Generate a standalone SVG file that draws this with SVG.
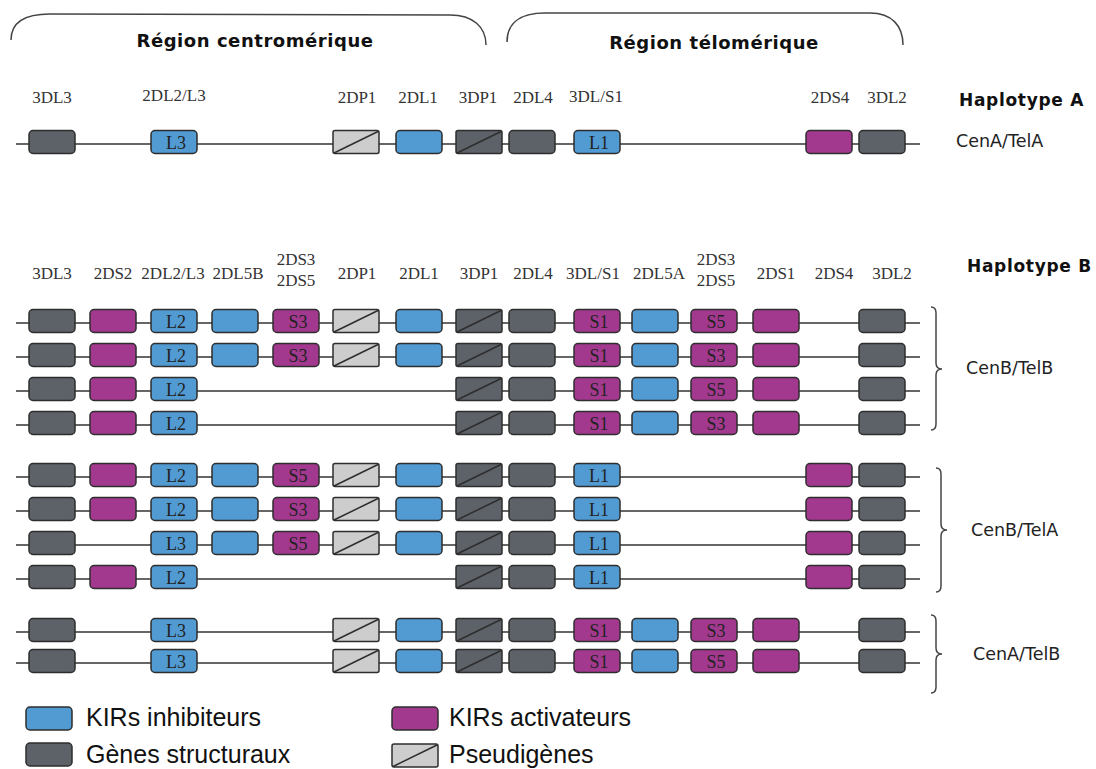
<svg xmlns="http://www.w3.org/2000/svg" xmlns:xlink="http://www.w3.org/1999/xlink" width="1096" height="769" viewBox="0 0 1096 769">
<style>
.s{fill:#5d6168}.i{fill:#519bd2}.a{fill:#a3398f}
use{stroke:#2e2e2e;stroke-width:1.5}
.bt{font-family:"Liberation Serif",serif;font-size:18px;fill:#222;text-anchor:middle}
.hd{font-family:"Liberation Serif",serif;font-size:17px;fill:#333;text-anchor:middle}
.sn{font-family:"DejaVu Sans",sans-serif;font-size:17.5px;fill:#222}
.bd{font-family:"DejaVu Sans",sans-serif;font-size:17px;font-weight:bold;fill:#111;letter-spacing:0.7px}
.tt{font-family:"DejaVu Sans",sans-serif;font-size:18px;font-weight:bold;fill:#111;text-anchor:middle;letter-spacing:0.55px}
.lg{font-family:"Liberation Sans",Arial,sans-serif;font-size:25px;fill:#111}
.ln{stroke:#333;stroke-width:1.5;fill:none}
.br{stroke:#444;stroke-width:1.5;fill:none}
</style>
<defs>
<rect id="bx" width="46" height="23" rx="4"/>
<g id="pl"><rect width="46" height="23" rx="2" fill="#cdcdcd"/><path d="M1 22.5L45 1"/></g>
<g id="pd"><rect width="46" height="23" rx="2" fill="#5d6168"/><path d="M1 22.5L45 1"/></g>
</defs>
<rect width="1096" height="769" fill="#fff"/>

<g id="brackets">
<path class="br" d="M11 40C11 23 23 14 50 14L450 15C473 15 486 27 486 45"/>
<path class="br" d="M507 42C507 24 519 13 545 13L870 13C892 13 903 26 903 45"/>
<path class="br" d="M931 307Q936 307 936 313V363Q936 369 942 369Q936 369 936 375V424Q936 430 931 430"/>
<path class="br" d="M936 468Q941 468 941 474V524Q941 530 947 530Q941 530 941 536V586Q941 592 936 592"/>
<path class="br" d="M931 615Q936 615 936 621V648Q936 654 942 654Q936 654 936 660V687Q936 693 931 693"/>
</g>

<g id="titles">
<text class="tt" x="255" y="47">Région centromérique</text>
<text class="tt" x="714" y="49">Région télomérique</text>
<text class="bd" x="959" y="106">Haplotype A</text>
<text class="bd" x="967" y="272">Haplotype B</text>
<text class="sn" x="956" y="147">CenA/TelA</text>
<text class="sn" x="966" y="374">CenB/TelB</text>
<text class="sn" x="971" y="536">CenB/TelA</text>
<text class="sn" x="973" y="660">CenA/TelB</text>
</g>

<g id="headers-A">
<text class="hd" x="52" y="103">3DL3</text>
<text class="hd" x="174" y="101">2DL2/L3</text>
<text class="hd" x="357" y="103">2DP1</text>
<text class="hd" x="418" y="103">2DL1</text>
<text class="hd" x="478" y="103">3DP1</text>
<text class="hd" x="533" y="103">2DL4</text>
<text class="hd" x="596" y="102">3DL/S1</text>
<text class="hd" x="830" y="103">2DS4</text>
<text class="hd" x="887" y="103">3DL2</text>
</g>

<g id="headers-B">
<text class="hd" x="52" y="279">3DL3</text>
<text class="hd" x="113" y="279">2DS2</text>
<text class="hd" x="173" y="279">2DL2/L3</text>
<text class="hd" x="238" y="279">2DL5B</text>
<text class="hd" x="296" y="265">2DS3</text>
<text class="hd" x="296" y="286">2DS5</text>
<text class="hd" x="357" y="279">2DP1</text>
<text class="hd" x="419" y="279">2DL1</text>
<text class="hd" x="479" y="279">3DP1</text>
<text class="hd" x="533" y="279">2DL4</text>
<text class="hd" x="593" y="279">3DL/S1</text>
<text class="hd" x="659" y="279">2DL5A</text>
<text class="hd" x="716" y="265">2DS3</text>
<text class="hd" x="716" y="286">2DS5</text>
<text class="hd" x="776" y="279">2DS1</text>
<text class="hd" x="834" y="279">2DS4</text>
<text class="hd" x="892" y="279">3DL2</text>
</g>

<g id="connectors">
<path class="ln" d="M16 144H920"/>
<path class="ln" d="M16 323H920"/>
<path class="ln" d="M16 357H920"/>
<path class="ln" d="M16 391H920"/>
<path class="ln" d="M16 425H920"/>
<path class="ln" d="M16 477H920"/>
<path class="ln" d="M16 511H920"/>
<path class="ln" d="M16 545H920"/>
<path class="ln" d="M16 579H920"/>
<path class="ln" d="M16 632H920"/>
<path class="ln" d="M16 663H920"/>
</g>

<g id="row-A">
<g id="A-3DL3"><use href="#bx" class="s" x="29" y="130.5"/></g>
<g id="A-2DL2L3"><use href="#bx" class="i" x="151" y="130.5"/><text class="bt" x="176" y="148.5">L3</text></g>
<g id="A-2DP1"><use href="#pl" x="333" y="130.5"/></g>
<g id="A-2DL1"><use href="#bx" class="i" x="396" y="130.5"/></g>
<g id="A-3DP1"><use href="#pd" x="456" y="130.5"/></g>
<g id="A-2DL4"><use href="#bx" class="s" x="509" y="130.5"/></g>
<g id="A-3DLS1"><use href="#bx" class="i" x="574" y="130.5"/><text class="bt" x="599" y="148.5">L1</text></g>
<g id="A-2DS4"><use href="#bx" class="a" x="806" y="130.5"/></g>
<g id="A-3DL2"><use href="#bx" class="s" x="859" y="130.5"/></g>
</g>

<g id="row-B1">
<g id="B1-3DL3"><use href="#bx" class="s" x="29" y="309.5"/></g>
<g id="B1-2DS2"><use href="#bx" class="a" x="90" y="309.5"/></g>
<g id="B1-2DL2L3"><use href="#bx" class="i" x="151" y="309.5"/><text class="bt" x="176" y="327.5">L2</text></g>
<g id="B1-2DL5B"><use href="#bx" class="i" x="212" y="309.5"/></g>
<g id="B1-2DS35c"><use href="#bx" class="a" x="273" y="309.5"/><text class="bt" x="298" y="327.5">S3</text></g>
<g id="B1-2DP1"><use href="#pl" x="333" y="309.5"/></g>
<g id="B1-2DL1"><use href="#bx" class="i" x="396" y="309.5"/></g>
<g id="B1-3DP1"><use href="#pd" x="456" y="309.5"/></g>
<g id="B1-2DL4"><use href="#bx" class="s" x="509" y="309.5"/></g>
<g id="B1-3DLS1"><use href="#bx" class="a" x="574" y="309.5"/><text class="bt" x="599" y="327.5">S1</text></g>
<g id="B1-2DL5A"><use href="#bx" class="i" x="632" y="309.5"/></g>
<g id="B1-2DS35t"><use href="#bx" class="a" x="691" y="309.5"/><text class="bt" x="716" y="327.5">S5</text></g>
<g id="B1-2DS1"><use href="#bx" class="a" x="753" y="309.5"/></g>
<g id="B1-3DL2"><use href="#bx" class="s" x="859" y="309.5"/></g>
</g>

<g id="row-B2">
<g id="B2-3DL3"><use href="#bx" class="s" x="29" y="343.5"/></g>
<g id="B2-2DS2"><use href="#bx" class="a" x="90" y="343.5"/></g>
<g id="B2-2DL2L3"><use href="#bx" class="i" x="151" y="343.5"/><text class="bt" x="176" y="361.5">L2</text></g>
<g id="B2-2DL5B"><use href="#bx" class="i" x="212" y="343.5"/></g>
<g id="B2-2DS35c"><use href="#bx" class="a" x="273" y="343.5"/><text class="bt" x="298" y="361.5">S3</text></g>
<g id="B2-2DP1"><use href="#pl" x="333" y="343.5"/></g>
<g id="B2-2DL1"><use href="#bx" class="i" x="396" y="343.5"/></g>
<g id="B2-3DP1"><use href="#pd" x="456" y="343.5"/></g>
<g id="B2-2DL4"><use href="#bx" class="s" x="509" y="343.5"/></g>
<g id="B2-3DLS1"><use href="#bx" class="a" x="574" y="343.5"/><text class="bt" x="599" y="361.5">S1</text></g>
<g id="B2-2DL5A"><use href="#bx" class="i" x="632" y="343.5"/></g>
<g id="B2-2DS35t"><use href="#bx" class="a" x="691" y="343.5"/><text class="bt" x="716" y="361.5">S3</text></g>
<g id="B2-2DS1"><use href="#bx" class="a" x="753" y="343.5"/></g>
<g id="B2-3DL2"><use href="#bx" class="s" x="859" y="343.5"/></g>
</g>

<g id="row-B3">
<g id="B3-3DL3"><use href="#bx" class="s" x="29" y="377.5"/></g>
<g id="B3-2DS2"><use href="#bx" class="a" x="90" y="377.5"/></g>
<g id="B3-2DL2L3"><use href="#bx" class="i" x="151" y="377.5"/><text class="bt" x="176" y="395.5">L2</text></g>
<g id="B3-3DP1"><use href="#pd" x="456" y="377.5"/></g>
<g id="B3-2DL4"><use href="#bx" class="s" x="509" y="377.5"/></g>
<g id="B3-3DLS1"><use href="#bx" class="a" x="574" y="377.5"/><text class="bt" x="599" y="395.5">S1</text></g>
<g id="B3-2DL5A"><use href="#bx" class="i" x="632" y="377.5"/></g>
<g id="B3-2DS35t"><use href="#bx" class="a" x="691" y="377.5"/><text class="bt" x="716" y="395.5">S5</text></g>
<g id="B3-2DS1"><use href="#bx" class="a" x="753" y="377.5"/></g>
<g id="B3-3DL2"><use href="#bx" class="s" x="859" y="377.5"/></g>
</g>

<g id="row-B4">
<g id="B4-3DL3"><use href="#bx" class="s" x="29" y="411.5"/></g>
<g id="B4-2DS2"><use href="#bx" class="a" x="90" y="411.5"/></g>
<g id="B4-2DL2L3"><use href="#bx" class="i" x="151" y="411.5"/><text class="bt" x="176" y="429.5">L2</text></g>
<g id="B4-3DP1"><use href="#pd" x="456" y="411.5"/></g>
<g id="B4-2DL4"><use href="#bx" class="s" x="509" y="411.5"/></g>
<g id="B4-3DLS1"><use href="#bx" class="a" x="574" y="411.5"/><text class="bt" x="599" y="429.5">S1</text></g>
<g id="B4-2DL5A"><use href="#bx" class="i" x="632" y="411.5"/></g>
<g id="B4-2DS35t"><use href="#bx" class="a" x="691" y="411.5"/><text class="bt" x="716" y="429.5">S3</text></g>
<g id="B4-2DS1"><use href="#bx" class="a" x="753" y="411.5"/></g>
<g id="B4-3DL2"><use href="#bx" class="s" x="859" y="411.5"/></g>
</g>

<g id="row-C1">
<g id="C1-3DL3"><use href="#bx" class="s" x="29" y="463.5"/></g>
<g id="C1-2DS2"><use href="#bx" class="a" x="90" y="463.5"/></g>
<g id="C1-2DL2L3"><use href="#bx" class="i" x="151" y="463.5"/><text class="bt" x="176" y="481.5">L2</text></g>
<g id="C1-2DL5B"><use href="#bx" class="i" x="212" y="463.5"/></g>
<g id="C1-2DS35c"><use href="#bx" class="a" x="273" y="463.5"/><text class="bt" x="298" y="481.5">S5</text></g>
<g id="C1-2DP1"><use href="#pl" x="333" y="463.5"/></g>
<g id="C1-2DL1"><use href="#bx" class="i" x="396" y="463.5"/></g>
<g id="C1-3DP1"><use href="#pd" x="456" y="463.5"/></g>
<g id="C1-2DL4"><use href="#bx" class="s" x="509" y="463.5"/></g>
<g id="C1-3DLS1"><use href="#bx" class="i" x="574" y="463.5"/><text class="bt" x="599" y="481.5">L1</text></g>
<g id="C1-2DS4"><use href="#bx" class="a" x="806" y="463.5"/></g>
<g id="C1-3DL2"><use href="#bx" class="s" x="859" y="463.5"/></g>
</g>

<g id="row-C2">
<g id="C2-3DL3"><use href="#bx" class="s" x="29" y="497.5"/></g>
<g id="C2-2DS2"><use href="#bx" class="a" x="90" y="497.5"/></g>
<g id="C2-2DL2L3"><use href="#bx" class="i" x="151" y="497.5"/><text class="bt" x="176" y="515.5">L2</text></g>
<g id="C2-2DL5B"><use href="#bx" class="i" x="212" y="497.5"/></g>
<g id="C2-2DS35c"><use href="#bx" class="a" x="273" y="497.5"/><text class="bt" x="298" y="515.5">S3</text></g>
<g id="C2-2DP1"><use href="#pl" x="333" y="497.5"/></g>
<g id="C2-2DL1"><use href="#bx" class="i" x="396" y="497.5"/></g>
<g id="C2-3DP1"><use href="#pd" x="456" y="497.5"/></g>
<g id="C2-2DL4"><use href="#bx" class="s" x="509" y="497.5"/></g>
<g id="C2-3DLS1"><use href="#bx" class="i" x="574" y="497.5"/><text class="bt" x="599" y="515.5">L1</text></g>
<g id="C2-2DS4"><use href="#bx" class="a" x="806" y="497.5"/></g>
<g id="C2-3DL2"><use href="#bx" class="s" x="859" y="497.5"/></g>
</g>

<g id="row-C3">
<g id="C3-3DL3"><use href="#bx" class="s" x="29" y="531.5"/></g>
<g id="C3-2DL2L3"><use href="#bx" class="i" x="151" y="531.5"/><text class="bt" x="176" y="549.5">L3</text></g>
<g id="C3-2DL5B"><use href="#bx" class="i" x="212" y="531.5"/></g>
<g id="C3-2DS35c"><use href="#bx" class="a" x="273" y="531.5"/><text class="bt" x="298" y="549.5">S5</text></g>
<g id="C3-2DP1"><use href="#pl" x="333" y="531.5"/></g>
<g id="C3-2DL1"><use href="#bx" class="i" x="396" y="531.5"/></g>
<g id="C3-3DP1"><use href="#pd" x="456" y="531.5"/></g>
<g id="C3-2DL4"><use href="#bx" class="s" x="509" y="531.5"/></g>
<g id="C3-3DLS1"><use href="#bx" class="i" x="574" y="531.5"/><text class="bt" x="599" y="549.5">L1</text></g>
<g id="C3-2DS4"><use href="#bx" class="a" x="806" y="531.5"/></g>
<g id="C3-3DL2"><use href="#bx" class="s" x="859" y="531.5"/></g>
</g>

<g id="row-C4">
<g id="C4-3DL3"><use href="#bx" class="s" x="29" y="565.5"/></g>
<g id="C4-2DS2"><use href="#bx" class="a" x="90" y="565.5"/></g>
<g id="C4-2DL2L3"><use href="#bx" class="i" x="151" y="565.5"/><text class="bt" x="176" y="583.5">L2</text></g>
<g id="C4-3DP1"><use href="#pd" x="456" y="565.5"/></g>
<g id="C4-2DL4"><use href="#bx" class="s" x="509" y="565.5"/></g>
<g id="C4-3DLS1"><use href="#bx" class="i" x="574" y="565.5"/><text class="bt" x="599" y="583.5">L1</text></g>
<g id="C4-2DS4"><use href="#bx" class="a" x="806" y="565.5"/></g>
<g id="C4-3DL2"><use href="#bx" class="s" x="859" y="565.5"/></g>
</g>

<g id="row-D1">
<g id="D1-3DL3"><use href="#bx" class="s" x="29" y="618.5"/></g>
<g id="D1-2DL2L3"><use href="#bx" class="i" x="151" y="618.5"/><text class="bt" x="176" y="636.5">L3</text></g>
<g id="D1-2DP1"><use href="#pl" x="333" y="618.5"/></g>
<g id="D1-2DL1"><use href="#bx" class="i" x="396" y="618.5"/></g>
<g id="D1-3DP1"><use href="#pd" x="456" y="618.5"/></g>
<g id="D1-2DL4"><use href="#bx" class="s" x="509" y="618.5"/></g>
<g id="D1-3DLS1"><use href="#bx" class="a" x="574" y="618.5"/><text class="bt" x="599" y="636.5">S1</text></g>
<g id="D1-2DL5A"><use href="#bx" class="i" x="632" y="618.5"/></g>
<g id="D1-2DS35t"><use href="#bx" class="a" x="691" y="618.5"/><text class="bt" x="716" y="636.5">S3</text></g>
<g id="D1-2DS1"><use href="#bx" class="a" x="753" y="618.5"/></g>
<g id="D1-3DL2"><use href="#bx" class="s" x="859" y="618.5"/></g>
</g>

<g id="row-D2">
<g id="D2-3DL3"><use href="#bx" class="s" x="29" y="649.5"/></g>
<g id="D2-2DL2L3"><use href="#bx" class="i" x="151" y="649.5"/><text class="bt" x="176" y="667.5">L3</text></g>
<g id="D2-2DP1"><use href="#pl" x="333" y="649.5"/></g>
<g id="D2-2DL1"><use href="#bx" class="i" x="396" y="649.5"/></g>
<g id="D2-3DP1"><use href="#pd" x="456" y="649.5"/></g>
<g id="D2-2DL4"><use href="#bx" class="s" x="509" y="649.5"/></g>
<g id="D2-3DLS1"><use href="#bx" class="a" x="574" y="649.5"/><text class="bt" x="599" y="667.5">S1</text></g>
<g id="D2-2DL5A"><use href="#bx" class="i" x="632" y="649.5"/></g>
<g id="D2-2DS35t"><use href="#bx" class="a" x="691" y="649.5"/><text class="bt" x="716" y="667.5">S5</text></g>
<g id="D2-2DS1"><use href="#bx" class="a" x="753" y="649.5"/></g>
<g id="D2-3DL2"><use href="#bx" class="s" x="859" y="649.5"/></g>
</g>

<g id="legend">
<g id="leg-inhib"><use href="#bx" class="i" x="26" y="707"/><text class="lg" x="86" y="726">KIRs inhibiteurs</text></g>
<g id="leg-struct"><use href="#bx" class="s" x="26" y="743"/><text class="lg" x="86" y="763">Gènes structuraux</text></g>
<g id="leg-activ"><use href="#bx" class="a" x="392" y="707"/><text class="lg" x="449" y="726">KIRs activateurs</text></g>
<g id="leg-pseudo"><use href="#pl" x="392" y="744"/><text class="lg" x="449" y="763">Pseudigènes</text></g>
</g>
</svg>
